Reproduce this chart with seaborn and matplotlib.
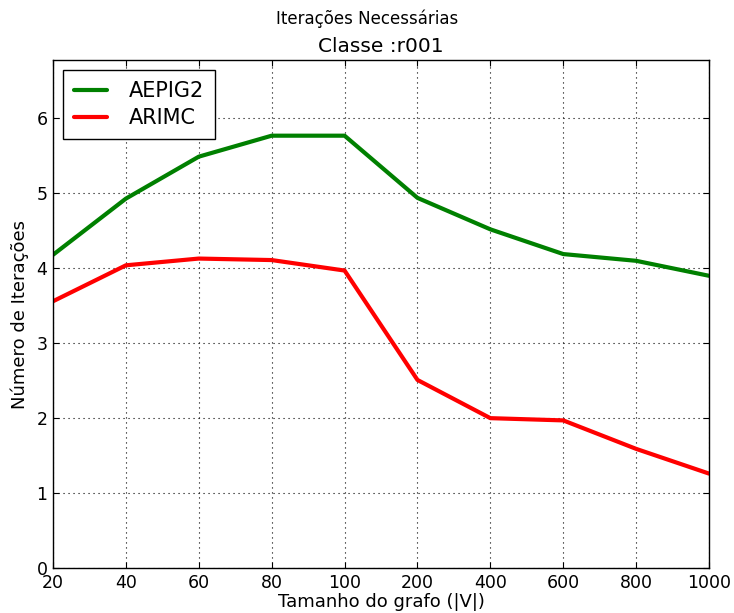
import matplotlib
matplotlib.use("Agg")
import matplotlib.pyplot as plt
import seaborn as sns
import pandas as pd

sizes = ["20", "40", "60", "80", "100", "200", "400", "600", "800", "1000"]
aepig2 = [4.18, 4.93, 5.49, 5.77, 5.77, 4.94, 4.52, 4.19, 4.10, 3.90]
arimc = [3.56, 4.04, 4.13, 4.11, 3.97, 2.51, 2.00, 1.97, 1.59, 1.26]
series_names = ["AEPIG2", "ARIMC"]
colors = ["green", "red"]

sns.set_style("ticks")
plt.rcParams['font.family'] = ['DejaVu Sans']
plt.rcParams['text.color'] = 'black'
plt.rcParams['axes.labelcolor'] = 'black'
plt.rcParams['xtick.color'] = 'black'
plt.rcParams['ytick.color'] = 'black'

df = pd.DataFrame({
    "pos": list(range(len(sizes))) * 2,
    "val": aepig2 + arimc,
    "serie": [series_names[0]] * len(sizes) + [series_names[1]] * len(sizes),
})

fig = plt.figure(figsize=(7.34, 6.13), dpi=100)
ax = fig.add_axes([0.0722, 0.0734, 0.8938, 0.8287])

sns.lineplot(data=df, x="pos", y="val", hue="serie", palette=colors,
             linewidth=3, ax=ax, legend=True)

ax.set_xlim(0, len(sizes) - 1)
ax.set_ylim(0, 6.78)
ax.set_xticks(range(len(sizes)))
ax.set_xticklabels(sizes)
ax.set_yticks(range(0, 7))

ax.grid(True, color="black", linestyle=(0, (1, 3.5)), linewidth=0.8)
ax.tick_params(direction="in", length=4, width=0.8, top=True, right=True,
               labelsize=12.5, pad=4, colors="black")
for s in ax.spines.values():
    s.set_linewidth(1.0)
    s.set_color("black")
    s.set_visible(True)

ax.set_xlabel("Tamanho do grafo (|V|)", fontsize=13, labelpad=1)
ax.set_ylabel("Número de Iterações", fontsize=13, labelpad=5)
ax.set_title("Classe :r001", fontsize=14.5, pad=6)
fig.suptitle("Iterações Necessárias", fontsize=12, y=0.985)

leg = ax.legend(loc="upper left", fontsize=15, fancybox=False, framealpha=1,
                edgecolor="black", handlelength=1.6, borderpad=0.5,
                handletextpad=1.05, borderaxespad=0.5, labelspacing=0.35)
leg.get_frame().set_linewidth(1.0)
for line in leg.get_lines():
    line.set_linewidth(3)

fig.savefig("out.png", dpi=100)
